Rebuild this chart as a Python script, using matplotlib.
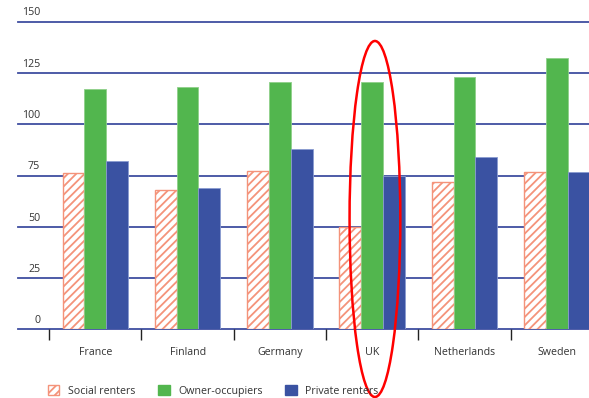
import matplotlib
matplotlib.use("Agg")
import matplotlib.pyplot as plt
from matplotlib.patches import Ellipse, Patch
import numpy as np

countries = ["France", "Finland", "Germany", "UK", "Netherlands", "Sweden"]
social_renters = [76, 68, 77, 50, 72, 76.5]
owner_occupiers = [117, 118, 120.5, 120.5, 123, 132.5]
private_renters = [82, 69, 88, 75, 84, 76.5]
y_ticks = [0, 25, 50, 75, 100, 125, 150]

plt.rcParams["font.family"] = ["Open Sans", "DejaVu Sans"]
plt.rcParams["hatch.linewidth"] = 1.3

W, H = 589, 398
fig = plt.figure(figsize=(W / 100, H / 100), dpi=100)
ax_left, ax_right = 18 / W, 1.0
ax_bottom, ax_top = 1 - 329.3 / H, 1 - 21.7 / H
ax = fig.add_axes([ax_left, ax_bottom, ax_right - ax_left, ax_top - ax_bottom])

green = "#52b64e"
blue = "#3a52a2"
hatch_col = "#f4937a"
grid_col = "#3f4ea0"
text_col = "#333333"

x = np.arange(len(countries))
bw = 0.236

ax.set_xlim(-0.837, 5.349)
ax.set_ylim(0, 150)

for t in y_ticks:
    ax.axhline(t, color=grid_col, lw=1.3, zorder=1, clip_on=False)
    ax.annotate(str(t), xy=(0, t), xycoords=("axes fraction", "data"),
                xytext=(16, 6.3), textcoords="offset points",
                ha="right", va="center", fontsize=7.7, color=text_col,
                annotation_clip=False)

ax.bar(x - bw, social_renters, bw, facecolor="white", edgecolor=hatch_col,
       hatch="////", lw=1.0, zorder=3)
ax.bar(x, owner_occupiers, bw, color=green, edgecolor="#8fd08a", lw=0.6, zorder=3)
ax.bar(x + bw, private_renters, bw, color=blue, edgecolor="#8a9bd0", lw=0.6, zorder=3)

for s in ax.spines.values():
    s.set_visible(False)
ax.set_yticks([])

# category boundary ticks below the baseline
ax.set_xticks(x - 0.5, minor=True)
ax.tick_params(axis="x", which="minor", length=8, width=1, color="#222222",
               direction="out", pad=0)
ax.set_xticks(x)
ax.set_xticklabels(countries, fontsize=7.7, color=text_col)
ax.tick_params(axis="x", which="major", length=0, pad=12.5)

# highlight around the UK group
ell = Ellipse((3.03, 53.8), 0.55, 173.6, fill=False, edgecolor="#ff0000",
              lw=1.8, zorder=6, clip_on=False)
ax.add_patch(ell)

handles = [
    Patch(facecolor="white", edgecolor=hatch_col, hatch="////", lw=1.0, label="Social renters"),
    Patch(facecolor=green, edgecolor=green, label="Owner-occupiers"),
    Patch(facecolor=blue, edgecolor=blue, label="Private renters"),
]
fig.legend(handles=handles, loc="center left", bbox_to_anchor=(38 / W, 1 - 391 / H),
           ncol=3, frameon=False, fontsize=7.7, handlelength=1.1, handleheight=1.1,
           columnspacing=2.1, handletextpad=0.8, labelcolor=text_col)

fig.savefig("out.png", dpi=100)
